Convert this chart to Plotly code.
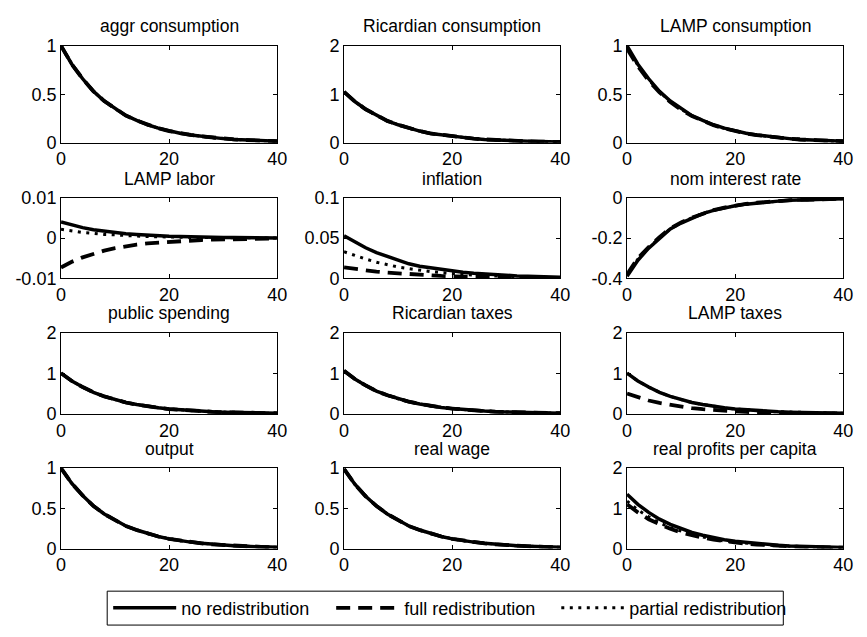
import plotly.graph_objects as go

t = list(range(0, 41, 2))

# ---- data (t = 0,2,...,40) ----
aggr_c = [1.00, 0.81, 0.66, 0.53, 0.43, 0.35, 0.28, 0.23, 0.185, 0.15, 0.12, 0.098, 0.08, 0.065, 0.052, 0.042, 0.034, 0.028, 0.023, 0.018, 0.015]
ric_c = [1.05, 0.85, 0.69, 0.56, 0.45, 0.37, 0.30, 0.24, 0.19, 0.16, 0.13, 0.10, 0.084, 0.068, 0.055, 0.044, 0.036, 0.029, 0.024, 0.019, 0.016]
lamp_c_no = [1.00, 0.81, 0.66, 0.53, 0.43, 0.35, 0.28, 0.23, 0.185, 0.15, 0.12, 0.098, 0.08, 0.065, 0.052, 0.042, 0.034, 0.028, 0.023, 0.018, 0.015]
lamp_c_full = [0.97, 0.79, 0.64, 0.52, 0.42, 0.34, 0.275, 0.225, 0.18, 0.147, 0.118, 0.096, 0.078, 0.064, 0.051, 0.041, 0.033, 0.027, 0.022, 0.018, 0.015]
lamp_c_part = [0.985, 0.80, 0.65, 0.525, 0.425, 0.345, 0.278, 0.228, 0.183, 0.148, 0.119, 0.097, 0.079, 0.064, 0.052, 0.042, 0.034, 0.027, 0.022, 0.018, 0.015]

labor_no = [0.0040, 0.0032, 0.0026, 0.0021, 0.0017, 0.0014, 0.0011, 0.0009, 0.0007, 0.0006, 0.00048, 0.0004, 0.0003, 0.00025, 0.0002, 0.00016, 0.00013, 0.0001, 0.00008, 0.00007, 0.00005]
labor_full = [-0.0073, -0.0059, -0.0048, -0.0039, -0.0031, -0.0025, -0.0020, -0.0016, -0.0013, -0.0011, -0.0009, -0.0007, -0.00058, -0.00047, -0.00038, -0.0003, -0.00025, -0.0002, -0.00016, -0.00013, -0.0001]
labor_part = [0.0022, 0.0018, 0.0014, 0.0012, 0.0009, 0.0008, 0.0006, 0.0005, 0.0004, 0.0003, 0.00026, 0.0002, 0.00017, 0.00014, 0.00011, 0.00009, 0.00007, 0.00006, 0.00005, 0.00004, 0.00003]

infl_no = [0.053, 0.045, 0.038, 0.032, 0.027, 0.022, 0.018, 0.015, 0.013, 0.011, 0.009, 0.0075, 0.0062, 0.0052, 0.0043, 0.0036, 0.003, 0.0025, 0.002, 0.0017, 0.0014]
infl_full = [0.0135, 0.0115, 0.0098, 0.0083, 0.007, 0.006, 0.005, 0.0042, 0.0035, 0.003, 0.0025, 0.0021, 0.0018, 0.0015, 0.0012, 0.001, 0.0009, 0.0007, 0.0006, 0.0005, 0.0004]
infl_part = [0.033, 0.028, 0.024, 0.020, 0.017, 0.014, 0.012, 0.010, 0.0083, 0.007, 0.0058, 0.0048, 0.004, 0.0033, 0.0028, 0.0023, 0.0019, 0.0016, 0.0013, 0.0011, 0.0009]

nom_no = [-0.39, -0.31, -0.25, -0.20, -0.155, -0.125, -0.10, -0.078, -0.062, -0.049, -0.039, -0.031, -0.025, -0.02, -0.016, -0.012, -0.01, -0.008, -0.006, -0.005, -0.004]
nom_full = [-0.38, -0.30, -0.245, -0.195, -0.152, -0.122, -0.098, -0.077, -0.061, -0.048, -0.038, -0.030, -0.024, -0.019, -0.015, -0.012, -0.01, -0.008, -0.006, -0.005, -0.004]
nom_part = [-0.385, -0.305, -0.248, -0.198, -0.154, -0.124, -0.099, -0.077, -0.061, -0.049, -0.039, -0.031, -0.025, -0.02, -0.016, -0.012, -0.01, -0.008, -0.006, -0.005, -0.004]

pub_g = [1.00, 0.81, 0.66, 0.53, 0.43, 0.35, 0.28, 0.23, 0.185, 0.15, 0.12, 0.098, 0.08, 0.065, 0.052, 0.042, 0.034, 0.028, 0.023, 0.018, 0.015]
ric_tax = [1.06, 0.86, 0.70, 0.56, 0.46, 0.37, 0.30, 0.245, 0.196, 0.16, 0.13, 0.104, 0.085, 0.069, 0.055, 0.045, 0.036, 0.03, 0.024, 0.019, 0.016]
lamp_tax_no = [1.00, 0.81, 0.66, 0.53, 0.43, 0.35, 0.28, 0.23, 0.185, 0.15, 0.12, 0.098, 0.08, 0.065, 0.052, 0.042, 0.034, 0.028, 0.023, 0.018, 0.015]
lamp_tax_full = [0.50, 0.41, 0.33, 0.27, 0.22, 0.175, 0.14, 0.115, 0.093, 0.075, 0.06, 0.049, 0.04, 0.033, 0.026, 0.021, 0.017, 0.014, 0.011, 0.009, 0.008]
lamp_tax_part = [1.00, 0.81, 0.66, 0.53, 0.43, 0.35, 0.28, 0.23, 0.185, 0.15, 0.12, 0.098, 0.08, 0.065, 0.052, 0.042, 0.034, 0.028, 0.023, 0.018, 0.015]

output_y = [1.00, 0.81, 0.66, 0.53, 0.43, 0.35, 0.28, 0.23, 0.185, 0.15, 0.12, 0.098, 0.08, 0.065, 0.052, 0.042, 0.034, 0.028, 0.023, 0.018, 0.015]
real_w = [0.99, 0.80, 0.65, 0.53, 0.43, 0.35, 0.28, 0.23, 0.185, 0.15, 0.12, 0.098, 0.08, 0.065, 0.052, 0.042, 0.034, 0.028, 0.023, 0.018, 0.015]

prof_no = [1.35, 1.10, 0.90, 0.73, 0.60, 0.49, 0.40, 0.33, 0.27, 0.22, 0.18, 0.15, 0.12, 0.10, 0.08, 0.065, 0.053, 0.043, 0.035, 0.029, 0.024]
prof_full = [1.10, 0.90, 0.73, 0.60, 0.49, 0.40, 0.33, 0.27, 0.22, 0.18, 0.15, 0.12, 0.10, 0.08, 0.066, 0.054, 0.044, 0.036, 0.03, 0.024, 0.02]
prof_part = [1.18, 0.96, 0.79, 0.64, 0.52, 0.43, 0.35, 0.29, 0.23, 0.19, 0.16, 0.13, 0.105, 0.086, 0.07, 0.057, 0.047, 0.038, 0.031, 0.026, 0.021]

titles = ["aggr consumption", "Ricardian consumption", "LAMP consumption",
          "LAMP labor", "inflation", "nom interest rate",
          "public spending", "Ricardian taxes", "LAMP taxes",
          "output", "real wage", "real profits per capita"]

series = [
    (aggr_c, aggr_c, aggr_c),
    (ric_c, ric_c, ric_c),
    (lamp_c_no, lamp_c_full, lamp_c_part),
    (labor_no, labor_full, labor_part),
    (infl_no, infl_full, infl_part),
    (nom_no, nom_full, nom_part),
    (pub_g, pub_g, pub_g),
    (ric_tax, ric_tax, ric_tax),
    (lamp_tax_no, lamp_tax_full, lamp_tax_part),
    (output_y, output_y, output_y),
    (real_w, real_w, real_w),
    (prof_no, prof_full, prof_part),
]

yranges = [[0, 1], [0, 2], [0, 1],
           [-0.01, 0.01], [0, 0.1], [-0.4, 0],
           [0, 2], [0, 2], [0, 2],
           [0, 1], [0, 1], [0, 2]]
yticks = [([0, 0.5, 1], ["0", "0.5", "1"]), ([0, 1, 2], ["0", "1", "2"]), ([0, 0.5, 1], ["0", "0.5", "1"]),
          ([-0.01, 0, 0.01], ["-0.01", "0", "0.01"]), ([0, 0.05, 0.1], ["0", "0.05", "0.1"]), ([-0.4, -0.2, 0], ["-0.4", "-0.2", "0"]),
          ([0, 1, 2], ["0", "1", "2"]), ([0, 1, 2], ["0", "1", "2"]), ([0, 1, 2], ["0", "1", "2"]),
          ([0, 0.5, 1], ["0", "0.5", "1"]), ([0, 0.5, 1], ["0", "0.5", "1"]), ([0, 1, 2], ["0", "1", "2"])]
legend_names = ["no redistribution", "full redistribution", "partial redistribution"]

W, H = 867, 637
col_px = [(57, 277), (345, 565), (633, 853)]
row_px = [(37, 137), (194, 277), (333, 417), (473, 556)]
legend_box_px = (104, 600, 792, 635)

FONT = "Liberation Sans, Arial, Helvetica, sans-serif"
styles = [dict(color="black", width=3.5, dash="solid"),
          dict(color="black", width=3.8, dash="14px,8px"),
          dict(color="black", width=3.0, dash="3px,5.5px")]
legend_ids = ["legend", "legend", "legend2"]

fig = go.Figure()
annotations = []
for i in range(12):
    r, c = divmod(i, 3)
    k = i + 1
    xa = "xaxis" if k == 1 else f"xaxis{k}"
    ya = "yaxis" if k == 1 else f"yaxis{k}"
    xref = "x" if k == 1 else f"x{k}"
    yref = "y" if k == 1 else f"y{k}"
    x0, x1 = col_px[c]
    y0, y1 = row_px[r]
    axcommon = dict(showline=True, linecolor="black", linewidth=1, mirror="allticks",
                    ticks="inside", ticklen=4, tickcolor="black", showgrid=False,
                    zeroline=False, tickfont=dict(family=FONT, size=18, color="black"))
    fig.layout[xa] = dict(domain=[x0 / W, x1 / W], anchor=yref, range=[0, 40],
                          tickvals=[0, 20, 40], ticktext=["0", "20", "40"], **axcommon)
    fig.layout[ya] = dict(domain=[1 - y1 / H, 1 - y0 / H], anchor=xref, range=yranges[i],
                          tickvals=yticks[i][0], ticktext=yticks[i][1], **axcommon)
    # draw order: dotted, dashed, solid on top
    for j in [2, 1, 0]:
        fig.add_trace(go.Scatter(x=t, y=series[i][j], mode="lines", line=styles[j],
                                 xaxis=xref, yaxis=yref, name=legend_names[j],
                                 showlegend=(i == 0), legendrank=j + 1, cliponaxis=True,
                                 legend=legend_ids[j]))
    annotations.append(dict(text=titles[i], x=(x0 + x1) / 2 / W, y=1 - (y0 - 20) / H,
                            xref="paper", yref="paper", xanchor="center", yanchor="middle",
                            showarrow=False, font=dict(family=FONT, size=17.5, color="black")))

bx0, by0, bx1, by1 = legend_box_px
leg_common = dict(orientation="h", y=1 - (by0 + by1) / 2 / H, xanchor="left", yanchor="middle",
                  borderwidth=0, bgcolor="rgba(0,0,0,0)",
                  font=dict(family=FONT, size=18, color="black"),
                  traceorder="normal", itemwidth=63)
fig.update_layout(
    width=W, height=H, margin=dict(l=0, r=0, t=0, b=0),
    paper_bgcolor="white", plot_bgcolor="white",
    annotations=annotations,
    shapes=[dict(type="rect", xref="paper", yref="paper",
                 x0=bx0 / W, x1=bx1 / W, y0=1 - by1 / H, y1=1 - by0 / H,
                 line=dict(color="black", width=1), fillcolor="rgba(0,0,0,0)", layer="above")],
    showlegend=True,
    legend=dict(x=(bx0 + 1) / W, entrywidth=145, entrywidthmode="pixels", **leg_common),
    legend2=dict(x=(bx0 + 13 + 2 * 222) / W, **leg_common),
)
fig.write_html("out.html")
